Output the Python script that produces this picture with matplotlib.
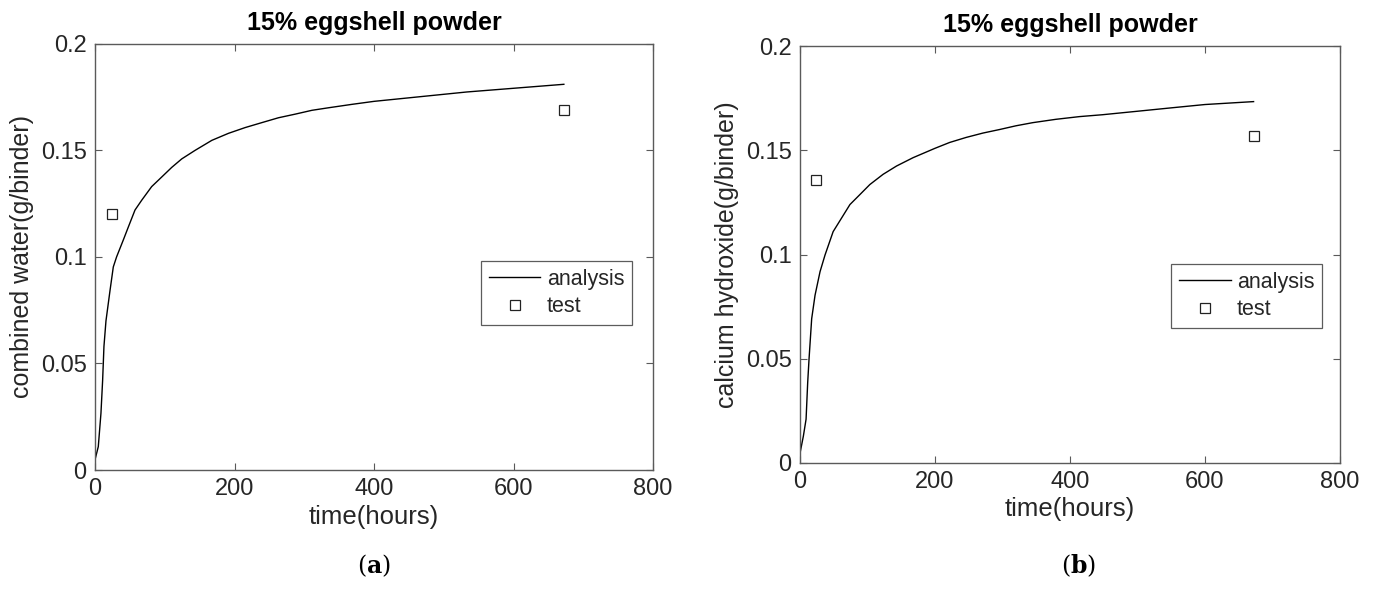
import matplotlib
matplotlib.use("Agg")
import matplotlib.pyplot as plt
from matplotlib.ticker import FuncFormatter

# hydration model output and measured values, 15% eggshell powder
t_cw = [0, 4.8, 8.6, 11, 12.9, 15.8, 21.5, 26.3, 31, 40.7, 47.8, 57.4, 67,
        81.3, 95.7, 110, 124.4, 143.5, 167.5, 191.4, 215.3, 239, 263, 287,
        311, 335, 368.5, 400, 533, 672]
cw_model = [0.0047, 0.011, 0.0266, 0.042, 0.058, 0.070, 0.084, 0.0953,
            0.100, 0.108, 0.114, 0.122, 0.1266, 0.133, 0.1375, 0.142, 0.146,
            0.150, 0.1547, 0.158, 0.1607, 0.163, 0.1653, 0.167, 0.1688,
            0.170, 0.1716, 0.173, 0.1774, 0.181]

t_ch = [0, 4.9, 8.9, 11.3, 13.3, 17.2, 22.2, 29.6, 37, 49, 73.9, 88.7,
        103.4, 123, 143, 167.5, 200, 221.7, 246, 270.9, 295.6, 320, 344.8,
        379, 414, 448, 497.6, 546.8, 600, 672]
ch_model = [0.0048, 0.0129, 0.021, 0.0386, 0.0499, 0.0692, 0.0805, 0.0918,
            0.0998, 0.111, 0.124, 0.1288, 0.1336, 0.1385, 0.1425, 0.1465,
            0.151, 0.1538, 0.1562, 0.1583, 0.160, 0.1618, 0.1633, 0.1649,
            0.1662, 0.1671, 0.1687, 0.1703, 0.172, 0.1734]

t_test = [24, 672]
cw_test = [0.120, 0.169]
ch_test = [0.136, 0.157]

xticks = [0, 200, 400, 600, 800]
yticks = [0, 0.05, 0.1, 0.15, 0.2]

plt.rcParams['font.family'] = ['Liberation Sans', 'DejaVu Sans']
plt.rcParams['mathtext.fontset'] = 'dejavuserif'
txt = '#262626'
edge = '#5a5a5a'

fig = plt.figure(figsize=(13.78, 5.92), dpi=100)

panels = [
    ([0.0689, 0.206, 0.4051, 0.720], t_cw, cw_model, cw_test,
     'combined water(g/binder)', 'a', 0.2714, (0.962, 0.415)),
    ([0.5806, 0.218, 0.3918, 0.704], t_ch, ch_model, ch_test,
     'calcium hydroxide(g/binder)', 'b', 0.783, (0.967, 0.401)),
]

for rect, t, model, test, ylab, cap, cap_x, leg_at in panels:
    ax = fig.add_axes(rect)
    ax.plot(t, model, color='black', lw=1.0, label='analysis')
    ax.plot(t_test, test, ls='none', marker='s', ms=7, mfc='none',
            mec='#222222', mew=0.9, label='test')
    ax.set_xlim(0, 800)
    ax.set_ylim(0, 0.2)
    ax.set_xticks(xticks)
    ax.set_yticks(yticks)
    ax.yaxis.set_major_formatter(FuncFormatter(lambda v, p: '%g' % v))
    ax.tick_params(direction='in', top=True, right=True, length=5,
                   width=0.8, color=edge, labelsize=17, labelcolor=txt, pad=6)
    for s in ax.spines.values():
        s.set_color(edge)
        s.set_linewidth(1.0)
    ax.set_xlabel('time(hours)', fontsize=18.5, color=txt, labelpad=3)
    ax.set_ylabel(ylab, fontsize=18, color=txt, labelpad=5)
    ax.set_title('15% eggshell powder', fontsize=18, fontweight='bold',
                 color='black', pad=10)
    leg = ax.legend(loc='center right', bbox_to_anchor=leg_at,
                    fontsize=15.5, frameon=True, fancybox=False,
                    handlelength=2.4, handletextpad=0.3, borderpad=0.35,
                    labelspacing=0.3, borderaxespad=0)
    leg.get_frame().set_edgecolor('#333333')
    leg.get_frame().set_linewidth(0.9)
    for tx in leg.get_texts():
        tx.set_color(txt)
    fig.text(cap_x, 0.044, '($\\mathbf{%s}$)' % cap, fontsize=17,
             ha='center', va='center', family='DejaVu Serif')

fig.savefig('out.png', dpi=100)
